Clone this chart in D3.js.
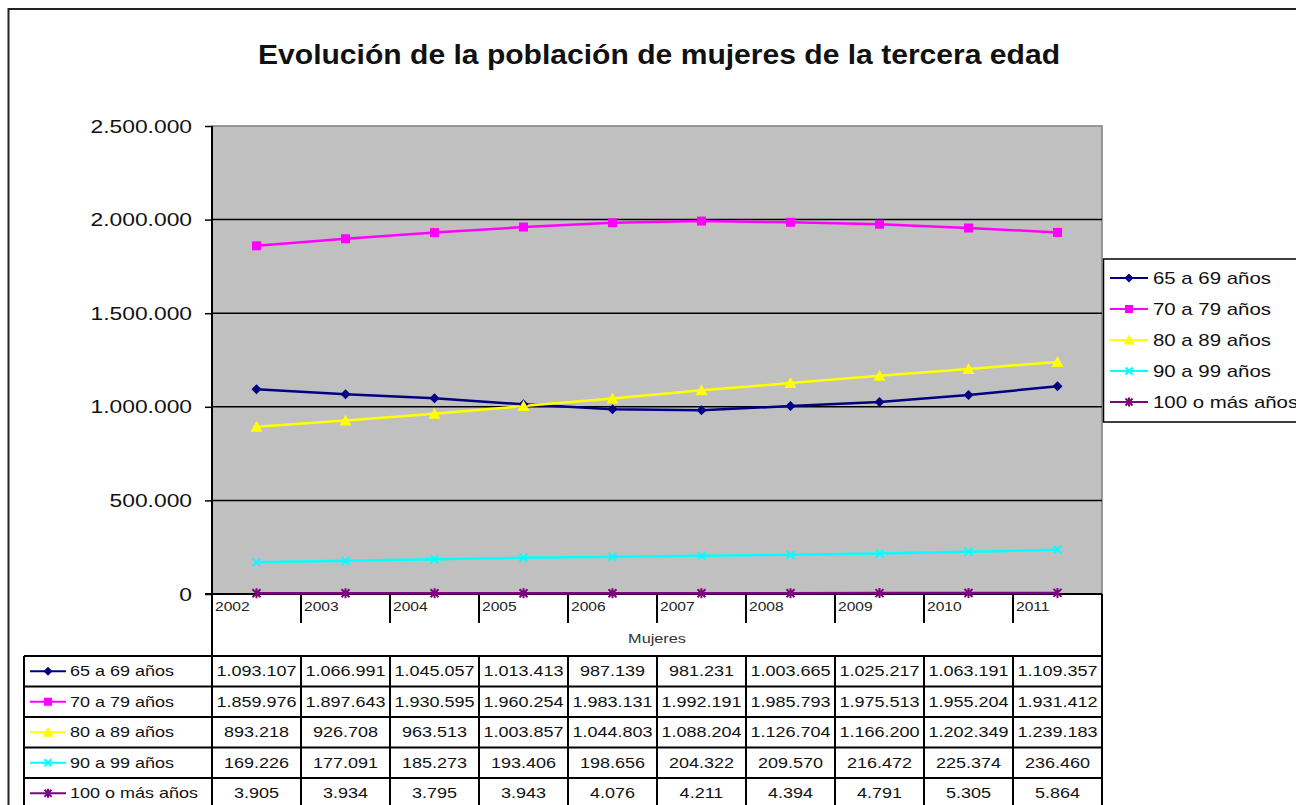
<!DOCTYPE html>
<html>
<head>
<meta charset="utf-8">
<script src="https://cdn.jsdelivr.net/npm/d3@7"></script>
<style>
  html, body { margin: 0; padding: 0; background: #fff; }
  svg { display: block; font-family: "Liberation Sans", Arial, sans-serif; }
</style>
</head>
<body>
<svg id="chart" width="1296" height="805"></svg>
<script>
// ---------- DATA ----------
const title = "Evolución de la población de mujeres de la tercera edad";
const years = ["2002","2003","2004","2005","2006","2007","2008","2009","2010","2011"];
const seriesNames = ["65 a 69 años","70 a 79 años","80 a 89 años","90 a 99 años","100 o más años"];
const s65 = [1093107,1066991,1045057,1013413,987139,981231,1003665,1025217,1063191,1109357];
const s70 = [1859976,1897643,1930595,1960254,1983131,1992191,1985793,1975513,1955204,1931412];
const s80 = [893218,926708,963513,1003857,1044803,1088204,1126704,1166200,1202349,1239183];
const s90 = [169226,177091,185273,193406,198656,204322,209570,216472,225374,236460];
const s100 = [3905,3934,3795,3943,4076,4211,4394,4791,5305,5864];
const yTicks = [0,500000,1000000,1500000,2000000,2500000];
const tableLabel = "Mujeres";
const colors = ["#000080","#FF00FF","#FFFF00","#00FFFF","#800080"];
const markers = ["diamond","square","triangle","x","star"];

const series = seriesNames.map((n,i)=>({name:n, values:[s65,s70,s80,s90,s100][i], color:colors[i], marker:markers[i]}));

// ---------- LAYOUT ----------
const svg = d3.select("#chart");
const X0 = 212, X1 = 1102, Y0 = 126, Y1 = 594;
const x = d3.scaleBand().domain(years).range([X0, X1]).padding(0);
const y = d3.scaleLinear().domain([0, 2500000]).range([Y1, Y0]);
const fmt = v => d3.format(",")(v).replace(/,/g, ".");

function stretch(sel, f) {
  sel.each(function(){ const w = this.getComputedTextLength(); d3.select(this).attr("textLength", w*f).attr("lengthAdjust","spacingAndGlyphs"); });
}

// outer border
svg.append("rect").attr("x",8.5).attr("y",9).attr("width",1400).attr("height",1000)
  .attr("fill","#fff").attr("stroke","#222").attr("stroke-width",2);

// title
const t = svg.append("text").attr("x",659).attr("y",64).attr("text-anchor","middle")
  .attr("font-size",27).attr("font-weight","bold").attr("fill","#111").text(title);
t.attr("textLength",802).attr("lengthAdjust","spacingAndGlyphs");

// plot area
svg.append("rect").attr("x",X0).attr("y",Y0).attr("width",X1-X0).attr("height",Y1-Y0)
  .attr("fill","#C0C0C0").attr("stroke","#808080").attr("stroke-width",1.5);

// gridlines
svg.append("g").selectAll("line").data(yTicks.filter(d=>d>0 && d<2500000)).join("line")
  .attr("x1",X0).attr("x2",X1).attr("y1",d=>y(d)).attr("y2",d=>y(d))
  .attr("stroke","#000").attr("stroke-width",1.5);

// y axis
const yAxis = d3.axisLeft(y).tickValues(yTicks).tickFormat(fmt).tickSize(7).tickPadding(13);
const ya = svg.append("g").attr("transform",`translate(${X0},0)`).call(yAxis);
ya.select(".domain").remove();
ya.selectAll(".tick line").attr("stroke","#000").attr("stroke-width",1.5);
ya.selectAll(".tick text").attr("font-size",19).attr("fill","#111").attr("font-family","Liberation Sans, Arial, sans-serif");
ya.selectAll(".tick text").call(stretch, 1.2);
svg.append("line").attr("x1",X0).attr("x2",X0).attr("y1",Y0).attr("y2",805).attr("stroke","#000").attr("stroke-width",2);

// x axis line and category ticks
svg.append("line").attr("x1",X0-7).attr("x2",X1).attr("y1",Y1).attr("y2",Y1).attr("stroke","#000").attr("stroke-width",2);
svg.append("g").selectAll("line").data(years.slice(1)).join("line")
  .attr("x1",d=>x(d)).attr("x2",d=>x(d)).attr("y1",Y1).attr("y2",623)
  .attr("stroke","#000").attr("stroke-width",2);
svg.append("line").attr("x1",X1).attr("x2",X1).attr("y1",Y1).attr("y2",805).attr("stroke","#000").attr("stroke-width",2);
svg.append("g").selectAll("text").data(years).join("text")
  .attr("x",d=>x(d)+3).attr("y",611).attr("font-size",13).attr("fill","#222").text(d=>d)
  .call(stretch, 1.2);

svg.append("text").attr("x",(X0+X1)/2).attr("y",643).attr("text-anchor","middle")
  .attr("font-size",13).attr("fill","#333").text(tableLabel).call(stretch,1.25);

// marker drawing
function drawMarker(g, type, color, cx, cy, s) {
  if (type==="diamond") {
    g.append("path").attr("d",`M${cx},${cy-s}L${cx+s},${cy}L${cx},${cy+s}L${cx-s},${cy}Z`).attr("fill",color);
  } else if (type==="square") {
    g.append("rect").attr("x",cx-s).attr("y",cy-s).attr("width",2*s).attr("height",2*s).attr("fill",color);
  } else if (type==="triangle") {
    g.append("path").attr("d",`M${cx},${cy-s-1}L${cx+s+1},${cy+s}L${cx-s-1},${cy+s}Z`).attr("fill",color);
  } else if (type==="x") {
    g.append("path").attr("d",`M${cx-s},${cy-s}L${cx+s},${cy+s}M${cx-s},${cy+s}L${cx+s},${cy-s}`).attr("stroke",color).attr("stroke-width",2);
  } else {
    g.append("path").attr("d",`M${cx-s},${cy-s}L${cx+s},${cy+s}M${cx-s},${cy+s}L${cx+s},${cy-s}M${cx},${cy-s-1}L${cx},${cy+s+1}`).attr("stroke",color).attr("stroke-width",2);
  }
}
const msize = {diamond:5, square:4.5, triangle:5, x:4, star:4};

// lines
const line = d3.line().x((d,i)=>x(years[i])+x.bandwidth()/2).y(d=>y(d));
const sg = svg.append("g");
series.forEach(s=>{
  sg.append("path").attr("d",line(s.values)).attr("fill","none").attr("stroke",s.color).attr("stroke-width",2.5);
});
series.forEach(s=>{
  s.values.forEach((v,i)=>drawMarker(sg, s.marker, s.color, x(years[i])+x.bandwidth()/2, y(v), msize[s.marker]));
});

// legend
const lg = svg.append("g");
lg.append("rect").attr("x",1103.5).attr("y",259).attr("width",300).attr("height",163)
  .attr("fill","#fff").attr("stroke","#000").attr("stroke-width",1.5);
series.forEach((s,i)=>{
  const yy = 278 + 31*i;
  lg.append("line").attr("x1",1110).attr("x2",1148).attr("y1",yy).attr("y2",yy).attr("stroke",s.color).attr("stroke-width",2);
  drawMarker(lg, s.marker, s.color, 1129, yy, msize[s.marker]-0.5);
  lg.append("text").attr("x",1153).attr("y",yy+6).attr("font-size",17).attr("fill","#111").text(s.name).call(stretch,1.2);
});

// data table
const TL = 24, rowTop = 656, rowH = 30.5;
const tg = svg.append("g");
const nRows = series.length;
for (let r=0; r<=nRows; r++) {
  tg.append("line").attr("x1",TL).attr("x2",X1).attr("y1",rowTop+r*rowH).attr("y2",rowTop+r*rowH)
    .attr("stroke","#000").attr("stroke-width",2);
}
tg.append("line").attr("x1",TL).attr("x2",TL).attr("y1",rowTop).attr("y2",805).attr("stroke","#000").attr("stroke-width",2);
years.slice(1).forEach(yr=>{
  tg.append("line").attr("x1",x(yr)).attr("x2",x(yr)).attr("y1",rowTop).attr("y2",805).attr("stroke","#000").attr("stroke-width",2);
});
series.forEach((s,r)=>{
  const cy = rowTop + r*rowH + rowH/2;
  tg.append("line").attr("x1",30).attr("x2",66).attr("y1",cy).attr("y2",cy).attr("stroke",s.color).attr("stroke-width",2);
  drawMarker(tg, s.marker, s.color, 48, cy, msize[s.marker]-0.5);
  tg.append("text").attr("x",70).attr("y",cy+5).attr("font-size",15).attr("fill","#111").text(s.name).call(stretch,1.2);
  s.values.forEach((v,i)=>{
    tg.append("text").attr("x",x(years[i])+x.bandwidth()/2).attr("y",cy+5).attr("text-anchor","middle")
      .attr("font-size",15).attr("fill","#111").text(fmt(v)).call(stretch,1.2);
  });
});
</script>
</body>
</html>
